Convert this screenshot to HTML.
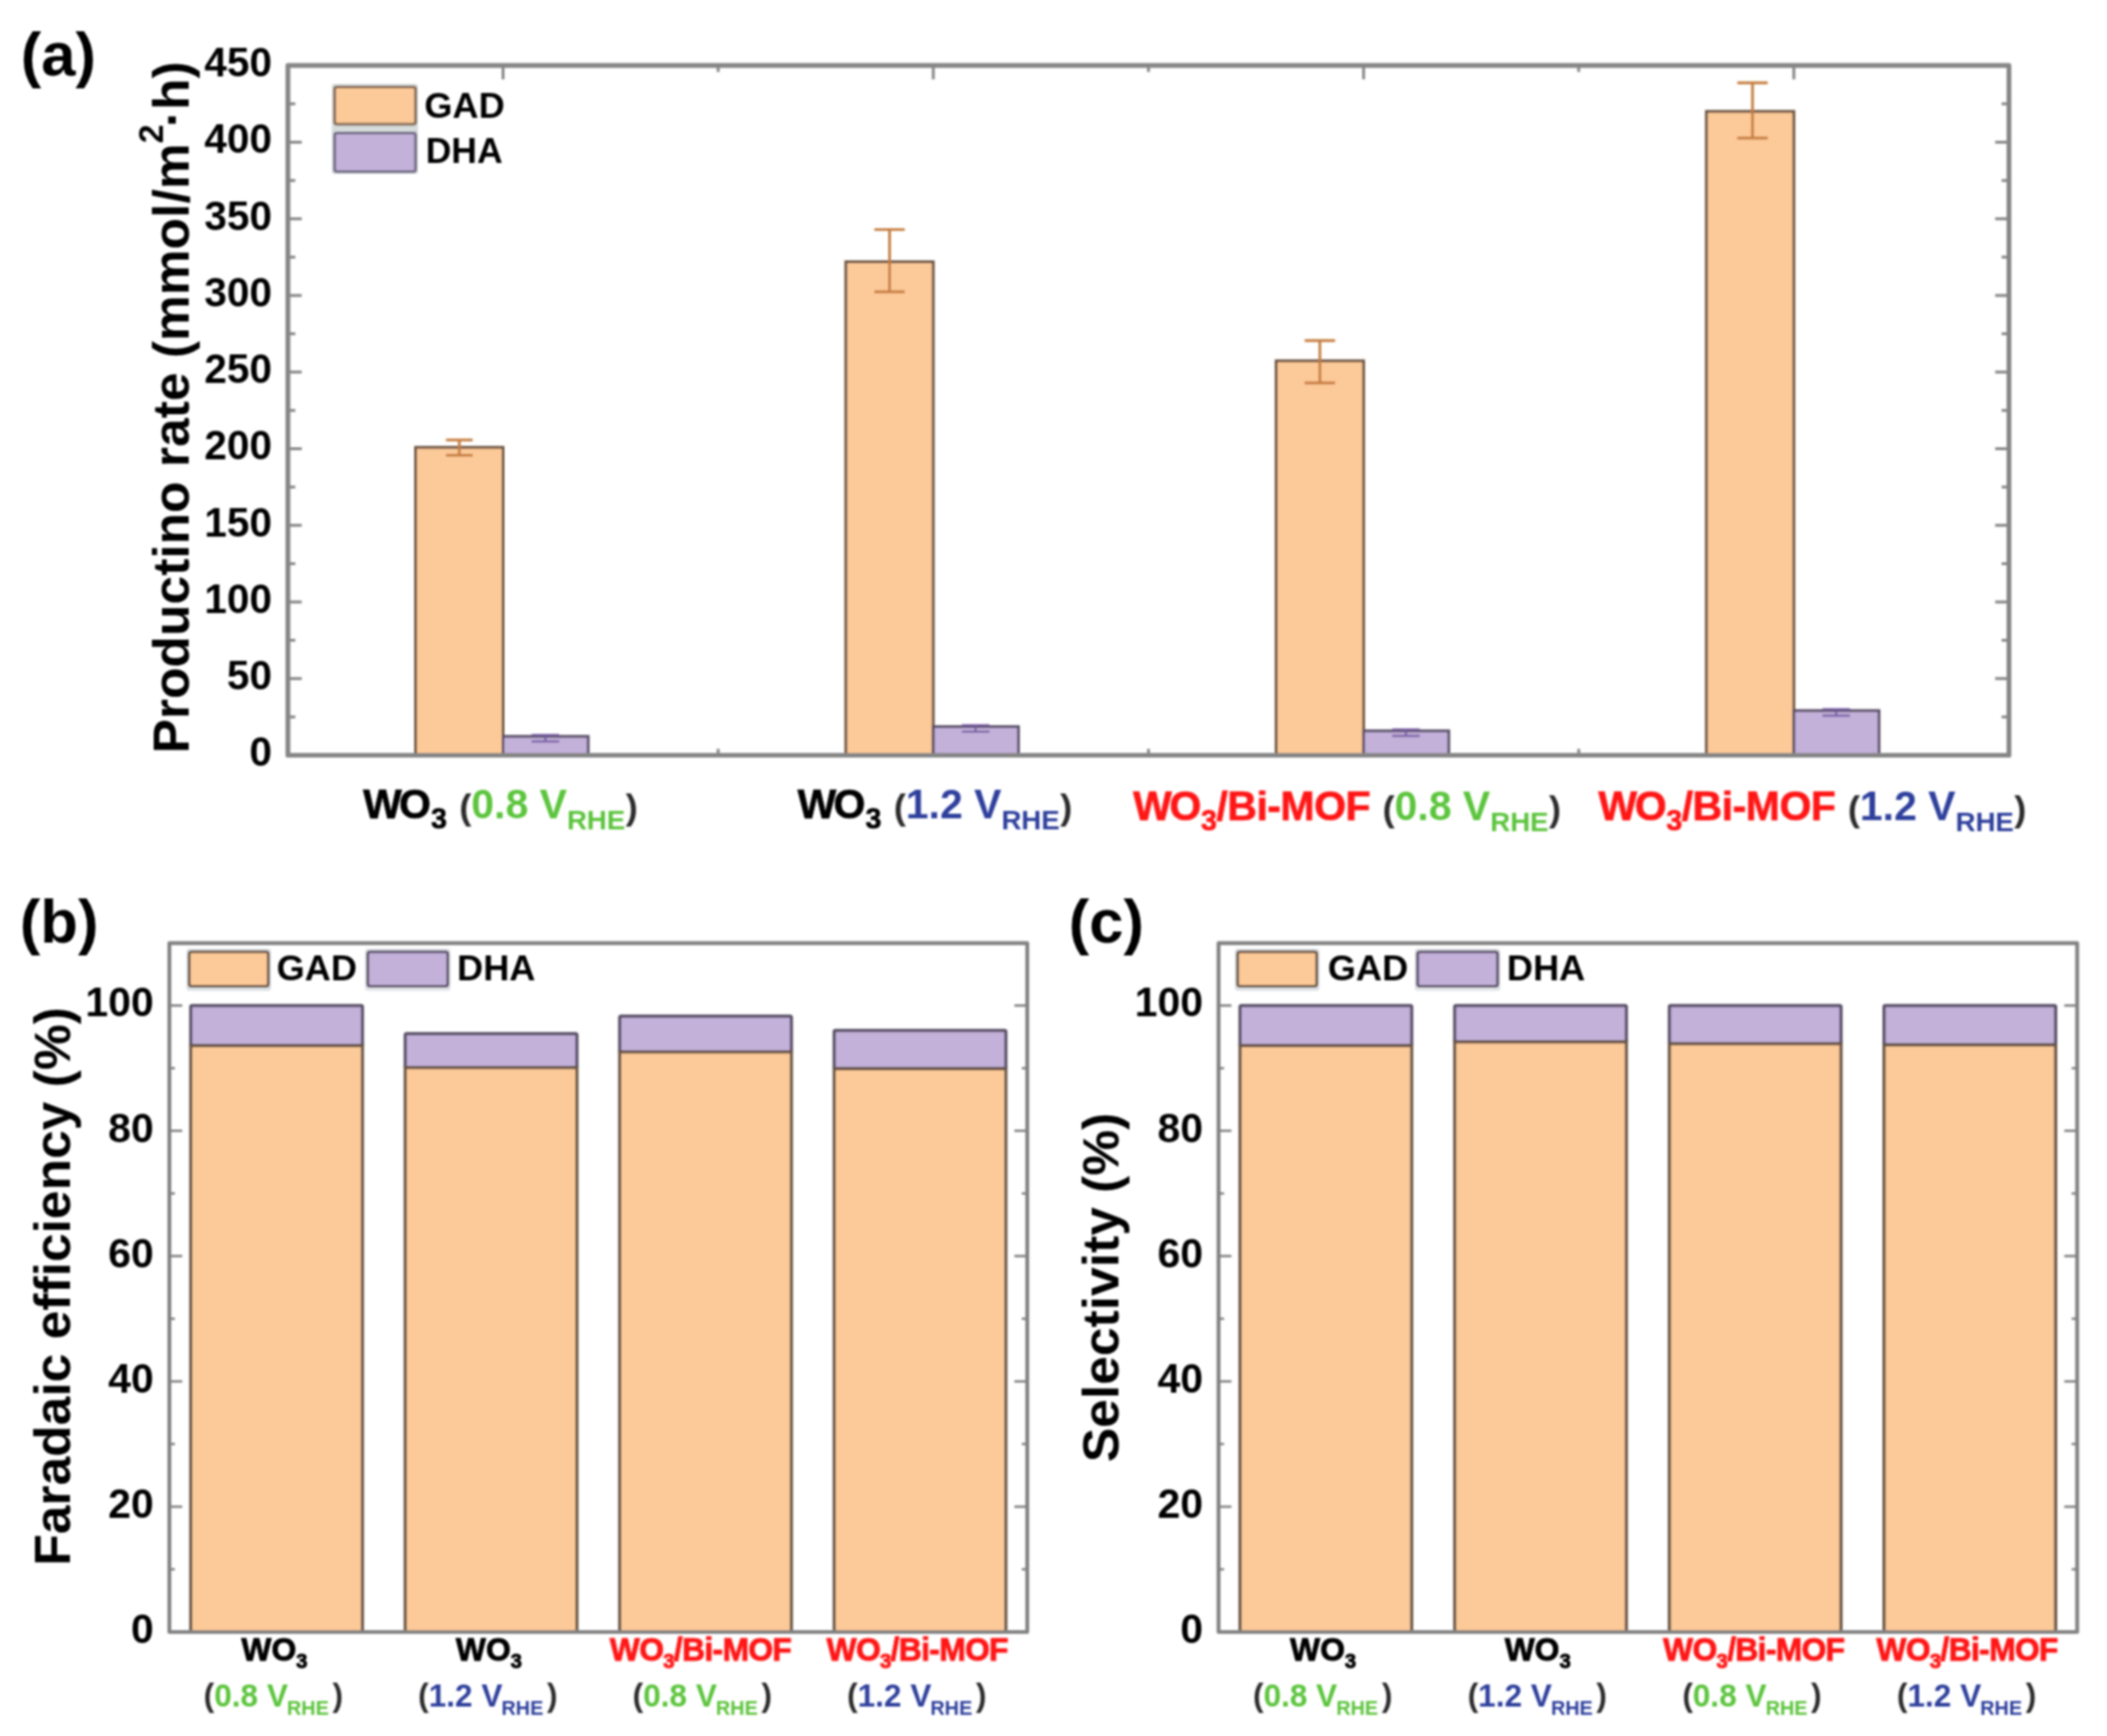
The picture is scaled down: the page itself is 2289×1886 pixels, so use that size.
<!DOCTYPE html>
<html lang="en"><head><meta charset="utf-8"><title>Figure</title>
<style>html,body{margin:0;padding:0;background:#fff}body{width:2289px;height:1886px;overflow:hidden}svg{display:block}text{font-family:"Liberation Sans",sans-serif;font-weight:bold}</style>
</head><body>
<svg width="2289" height="1886" viewBox="0 0 2289 1886">
<defs><filter id="bl" x="-2%" y="-2%" width="104%" height="104%"><feGaussianBlur stdDeviation="1.2"/></filter></defs>
<rect width="2289" height="1886" fill="#fff"/>
<g filter="url(#bl)">
<g id="panel-a">
<line x1="312.8" y1="820.5" x2="327.8" y2="820.5" stroke="#868686" stroke-width="3.1"/>
<line x1="2182.5" y1="820.5" x2="2167.5" y2="820.5" stroke="#868686" stroke-width="3.1"/>
<line x1="312.8" y1="778.9" x2="320.8" y2="778.9" stroke="#868686" stroke-width="3.1"/>
<line x1="2182.5" y1="778.9" x2="2174.5" y2="778.9" stroke="#868686" stroke-width="3.1"/>
<line x1="312.8" y1="737.2" x2="327.8" y2="737.2" stroke="#868686" stroke-width="3.1"/>
<line x1="2182.5" y1="737.2" x2="2167.5" y2="737.2" stroke="#868686" stroke-width="3.1"/>
<line x1="312.8" y1="695.6" x2="320.8" y2="695.6" stroke="#868686" stroke-width="3.1"/>
<line x1="2182.5" y1="695.6" x2="2174.5" y2="695.6" stroke="#868686" stroke-width="3.1"/>
<line x1="312.8" y1="654.0" x2="327.8" y2="654.0" stroke="#868686" stroke-width="3.1"/>
<line x1="2182.5" y1="654.0" x2="2167.5" y2="654.0" stroke="#868686" stroke-width="3.1"/>
<line x1="312.8" y1="612.4" x2="320.8" y2="612.4" stroke="#868686" stroke-width="3.1"/>
<line x1="2182.5" y1="612.4" x2="2174.5" y2="612.4" stroke="#868686" stroke-width="3.1"/>
<line x1="312.8" y1="570.7" x2="327.8" y2="570.7" stroke="#868686" stroke-width="3.1"/>
<line x1="2182.5" y1="570.7" x2="2167.5" y2="570.7" stroke="#868686" stroke-width="3.1"/>
<line x1="312.8" y1="529.1" x2="320.8" y2="529.1" stroke="#868686" stroke-width="3.1"/>
<line x1="2182.5" y1="529.1" x2="2174.5" y2="529.1" stroke="#868686" stroke-width="3.1"/>
<line x1="312.8" y1="487.5" x2="327.8" y2="487.5" stroke="#868686" stroke-width="3.1"/>
<line x1="2182.5" y1="487.5" x2="2167.5" y2="487.5" stroke="#868686" stroke-width="3.1"/>
<line x1="312.8" y1="445.9" x2="320.8" y2="445.9" stroke="#868686" stroke-width="3.1"/>
<line x1="2182.5" y1="445.9" x2="2174.5" y2="445.9" stroke="#868686" stroke-width="3.1"/>
<line x1="312.8" y1="404.2" x2="327.8" y2="404.2" stroke="#868686" stroke-width="3.1"/>
<line x1="2182.5" y1="404.2" x2="2167.5" y2="404.2" stroke="#868686" stroke-width="3.1"/>
<line x1="312.8" y1="362.6" x2="320.8" y2="362.6" stroke="#868686" stroke-width="3.1"/>
<line x1="2182.5" y1="362.6" x2="2174.5" y2="362.6" stroke="#868686" stroke-width="3.1"/>
<line x1="312.8" y1="321.0" x2="327.8" y2="321.0" stroke="#868686" stroke-width="3.1"/>
<line x1="2182.5" y1="321.0" x2="2167.5" y2="321.0" stroke="#868686" stroke-width="3.1"/>
<line x1="312.8" y1="279.3" x2="320.8" y2="279.3" stroke="#868686" stroke-width="3.1"/>
<line x1="2182.5" y1="279.3" x2="2174.5" y2="279.3" stroke="#868686" stroke-width="3.1"/>
<line x1="312.8" y1="237.7" x2="327.8" y2="237.7" stroke="#868686" stroke-width="3.1"/>
<line x1="2182.5" y1="237.7" x2="2167.5" y2="237.7" stroke="#868686" stroke-width="3.1"/>
<line x1="312.8" y1="196.1" x2="320.8" y2="196.1" stroke="#868686" stroke-width="3.1"/>
<line x1="2182.5" y1="196.1" x2="2174.5" y2="196.1" stroke="#868686" stroke-width="3.1"/>
<line x1="312.8" y1="154.5" x2="327.8" y2="154.5" stroke="#868686" stroke-width="3.1"/>
<line x1="2182.5" y1="154.5" x2="2167.5" y2="154.5" stroke="#868686" stroke-width="3.1"/>
<line x1="312.8" y1="112.8" x2="320.8" y2="112.8" stroke="#868686" stroke-width="3.1"/>
<line x1="2182.5" y1="112.8" x2="2174.5" y2="112.8" stroke="#868686" stroke-width="3.1"/>
<line x1="312.8" y1="71.2" x2="327.8" y2="71.2" stroke="#868686" stroke-width="3.1"/>
<line x1="2182.5" y1="71.2" x2="2167.5" y2="71.2" stroke="#868686" stroke-width="3.1"/>
<line x1="546.5" y1="71.2" x2="546.5" y2="86.2" stroke="#868686" stroke-width="3.1"/>
<line x1="546.5" y1="820.5" x2="546.5" y2="805.5" stroke="#868686" stroke-width="3.1"/>
<line x1="1013.9" y1="71.2" x2="1013.9" y2="86.2" stroke="#868686" stroke-width="3.1"/>
<line x1="1013.9" y1="820.5" x2="1013.9" y2="805.5" stroke="#868686" stroke-width="3.1"/>
<line x1="1481.4" y1="71.2" x2="1481.4" y2="86.2" stroke="#868686" stroke-width="3.1"/>
<line x1="1481.4" y1="820.5" x2="1481.4" y2="805.5" stroke="#868686" stroke-width="3.1"/>
<line x1="1948.8" y1="71.2" x2="1948.8" y2="86.2" stroke="#868686" stroke-width="3.1"/>
<line x1="1948.8" y1="820.5" x2="1948.8" y2="805.5" stroke="#868686" stroke-width="3.1"/>
<line x1="780.2" y1="71.2" x2="780.2" y2="78.2" stroke="#868686" stroke-width="3.1"/>
<line x1="780.2" y1="820.5" x2="780.2" y2="813.5" stroke="#868686" stroke-width="3.1"/>
<line x1="1247.7" y1="71.2" x2="1247.7" y2="78.2" stroke="#868686" stroke-width="3.1"/>
<line x1="1247.7" y1="820.5" x2="1247.7" y2="813.5" stroke="#868686" stroke-width="3.1"/>
<line x1="1715.1" y1="71.2" x2="1715.1" y2="78.2" stroke="#868686" stroke-width="3.1"/>
<line x1="1715.1" y1="820.5" x2="1715.1" y2="813.5" stroke="#868686" stroke-width="3.1"/>
<rect x="451.5" y="486.0" width="95.0" height="334.5" fill="#fcc998" stroke="#6c5242" stroke-width="3.0"/>
<rect x="546.5" y="800.0" width="92.5" height="20.5" fill="#c3b1d9" stroke="#5a5068" stroke-width="3.0"/>
<line x1="499.0" y1="478.0" x2="499.0" y2="494.6" stroke="#c57c3e" stroke-width="2.9"/>
<line x1="484.5" y1="478.0" x2="513.5" y2="478.0" stroke="#c57c3e" stroke-width="2.9"/>
<line x1="484.5" y1="494.6" x2="513.5" y2="494.6" stroke="#c57c3e" stroke-width="2.9"/>
<line x1="592.5" y1="798.5" x2="592.5" y2="805.5" stroke="#7458a0" stroke-width="2.2"/>
<line x1="577.5" y1="798.5" x2="607.5" y2="798.5" stroke="#7458a0" stroke-width="2.2"/>
<line x1="577.5" y1="805.5" x2="607.5" y2="805.5" stroke="#7458a0" stroke-width="2.2"/>
<rect x="918.9" y="284.4" width="95.0" height="536.1" fill="#fcc998" stroke="#6c5242" stroke-width="3.0"/>
<rect x="1013.9" y="789.4" width="92.5" height="31.1" fill="#c3b1d9" stroke="#5a5068" stroke-width="3.0"/>
<line x1="966.4" y1="249.4" x2="966.4" y2="317.0" stroke="#c57c3e" stroke-width="2.9"/>
<line x1="949.9" y1="249.4" x2="982.9" y2="249.4" stroke="#c57c3e" stroke-width="2.9"/>
<line x1="949.9" y1="317.0" x2="982.9" y2="317.0" stroke="#c57c3e" stroke-width="2.9"/>
<line x1="1059.9" y1="787.9" x2="1059.9" y2="794.9" stroke="#7458a0" stroke-width="2.2"/>
<line x1="1044.9" y1="787.9" x2="1074.9" y2="787.9" stroke="#7458a0" stroke-width="2.2"/>
<line x1="1044.9" y1="794.9" x2="1074.9" y2="794.9" stroke="#7458a0" stroke-width="2.2"/>
<rect x="1386.4" y="392.0" width="95.0" height="428.5" fill="#fcc998" stroke="#6c5242" stroke-width="3.0"/>
<rect x="1481.4" y="794.0" width="92.5" height="26.5" fill="#c3b1d9" stroke="#5a5068" stroke-width="3.0"/>
<line x1="1433.9" y1="370.0" x2="1433.9" y2="416.0" stroke="#c57c3e" stroke-width="2.9"/>
<line x1="1417.4" y1="370.0" x2="1450.4" y2="370.0" stroke="#c57c3e" stroke-width="2.9"/>
<line x1="1417.4" y1="416.0" x2="1450.4" y2="416.0" stroke="#c57c3e" stroke-width="2.9"/>
<line x1="1527.4" y1="792.5" x2="1527.4" y2="799.5" stroke="#7458a0" stroke-width="2.2"/>
<line x1="1512.4" y1="792.5" x2="1542.4" y2="792.5" stroke="#7458a0" stroke-width="2.2"/>
<line x1="1512.4" y1="799.5" x2="1542.4" y2="799.5" stroke="#7458a0" stroke-width="2.2"/>
<rect x="1853.8" y="121.0" width="95.0" height="699.5" fill="#fcc998" stroke="#6c5242" stroke-width="3.0"/>
<rect x="1948.8" y="772.0" width="92.5" height="48.5" fill="#c3b1d9" stroke="#5a5068" stroke-width="3.0"/>
<line x1="1903.9" y1="90.0" x2="1903.9" y2="150.0" stroke="#c57c3e" stroke-width="2.9"/>
<line x1="1887.4" y1="90.0" x2="1920.4" y2="90.0" stroke="#c57c3e" stroke-width="2.9"/>
<line x1="1887.4" y1="150.0" x2="1920.4" y2="150.0" stroke="#c57c3e" stroke-width="2.9"/>
<line x1="1994.8" y1="770.5" x2="1994.8" y2="777.5" stroke="#7458a0" stroke-width="2.2"/>
<line x1="1979.8" y1="770.5" x2="2009.8" y2="770.5" stroke="#7458a0" stroke-width="2.2"/>
<line x1="1979.8" y1="777.5" x2="2009.8" y2="777.5" stroke="#7458a0" stroke-width="2.2"/>
<rect x="312.8" y="71.2" width="1869.7" height="749.3" fill="none" stroke="#868686" stroke-width="5.2" stroke-linejoin="round"/>
<rect x="360.5" y="91.0" width="93.5" height="98.0" fill="#d6dcdc" stroke="none" stroke-width="0.0" rx="3.0"/>
<rect x="363.5" y="94.5" width="88.0" height="40.5" fill="#fcc998" stroke="#866c56" stroke-width="3.2" rx="2.5"/>
<rect x="363.5" y="144.5" width="88.0" height="42.0" fill="#c3b1d9" stroke="#746a88" stroke-width="3.2" rx="2.5"/>
<text x="461" y="128" font-size="39.3">GAD</text>
<text x="462.5" y="177" font-size="38.6">DHA</text>
<text x="295.5" y="832.3" font-size="44" text-anchor="end">0</text>
<text x="295.5" y="749.0" font-size="44" text-anchor="end">50</text>
<text x="295.5" y="665.8" font-size="44" text-anchor="end">100</text>
<text x="295.5" y="582.5" font-size="44" text-anchor="end">150</text>
<text x="295.5" y="499.3" font-size="44" text-anchor="end">200</text>
<text x="295.5" y="416.0" font-size="44" text-anchor="end">250</text>
<text x="295.5" y="332.8" font-size="44" text-anchor="end">300</text>
<text x="295.5" y="249.5" font-size="44" text-anchor="end">350</text>
<text x="295.5" y="166.3" font-size="44" text-anchor="end">400</text>
<text x="295.5" y="83.0" font-size="44" text-anchor="end">450</text>
<text transform="translate(205.3,818.5) rotate(-90)" font-size="56">Productino rate (mmol/m<tspan font-size="37" dy="-28">2</tspan><tspan dy="28" dx="-3">·h)</tspan></text>
<text x="22.5" y="81.5" font-size="67">(a)</text>
<text x="394.5" y="888.5" font-size="44.5"><tspan fill="#000" stroke="#000" stroke-width="0.7"><tspan letter-spacing="-3">W</tspan>O<tspan font-size="31" dy="11">3</tspan></tspan><tspan fill="#2a2a2a" font-size="39.5" dy="-10" dx="13.5">(</tspan><tspan fill="#5cc43c" dy="-1">0.8 V<tspan font-size="30" dy="12">RHE</tspan></tspan><tspan fill="#2a2a2a" font-size="39.5" dy="-11" dx="0.5">)</tspan></text>
<text x="866.5" y="888.5" font-size="44.5"><tspan fill="#000" stroke="#000" stroke-width="0.7"><tspan letter-spacing="-3">W</tspan>O<tspan font-size="31" dy="11">3</tspan></tspan><tspan fill="#2a2a2a" font-size="39.5" dy="-10" dx="13.5">(</tspan><tspan fill="#2f3f9c" dy="-1">1.2 V<tspan font-size="30" dy="12">RHE</tspan></tspan><tspan fill="#2a2a2a" font-size="39.5" dy="-11" dx="0.5">)</tspan></text>
<text x="1231.0" y="891.0" font-size="44.5"><tspan fill="#ff1414" stroke="#ff1414" stroke-width="0.7" letter-spacing="-0.5"><tspan letter-spacing="-2.5">W</tspan>O<tspan font-size="31" dy="11">3</tspan><tspan dy="-11">/Bi-MOF</tspan></tspan><tspan fill="#2a2a2a" font-size="39.5" dy="1" dx="13.5">(</tspan><tspan fill="#5cc43c" dy="-1">0.8 V<tspan font-size="30" dy="12">RHE</tspan></tspan><tspan fill="#2a2a2a" font-size="39.5" dy="-11" dx="0.5">)</tspan></text>
<text x="1736.5" y="891.0" font-size="44.5"><tspan fill="#ff1414" stroke="#ff1414" stroke-width="0.7" letter-spacing="-0.5"><tspan letter-spacing="-2.5">W</tspan>O<tspan font-size="31" dy="11">3</tspan><tspan dy="-11">/Bi-MOF</tspan></tspan><tspan fill="#2a2a2a" font-size="39.5" dy="1" dx="13.5">(</tspan><tspan fill="#2f3f9c" dy="-1">1.2 V<tspan font-size="30" dy="12">RHE</tspan></tspan><tspan fill="#2a2a2a" font-size="39.5" dy="-11" dx="0.5">)</tspan></text>
</g>
<g id="panel-b">
<line x1="184.0" y1="1773.0" x2="198.0" y2="1773.0" stroke="#828282" stroke-width="2.6"/>
<line x1="1116.0" y1="1773.0" x2="1102.0" y2="1773.0" stroke="#828282" stroke-width="2.6"/>
<line x1="184.0" y1="1704.9" x2="190.0" y2="1704.9" stroke="#828282" stroke-width="2.6"/>
<line x1="1116.0" y1="1704.9" x2="1110.0" y2="1704.9" stroke="#828282" stroke-width="2.6"/>
<line x1="184.0" y1="1636.9" x2="198.0" y2="1636.9" stroke="#828282" stroke-width="2.6"/>
<line x1="1116.0" y1="1636.9" x2="1102.0" y2="1636.9" stroke="#828282" stroke-width="2.6"/>
<line x1="184.0" y1="1568.8" x2="190.0" y2="1568.8" stroke="#828282" stroke-width="2.6"/>
<line x1="1116.0" y1="1568.8" x2="1110.0" y2="1568.8" stroke="#828282" stroke-width="2.6"/>
<line x1="184.0" y1="1500.8" x2="198.0" y2="1500.8" stroke="#828282" stroke-width="2.6"/>
<line x1="1116.0" y1="1500.8" x2="1102.0" y2="1500.8" stroke="#828282" stroke-width="2.6"/>
<line x1="184.0" y1="1432.7" x2="190.0" y2="1432.7" stroke="#828282" stroke-width="2.6"/>
<line x1="1116.0" y1="1432.7" x2="1110.0" y2="1432.7" stroke="#828282" stroke-width="2.6"/>
<line x1="184.0" y1="1364.6" x2="198.0" y2="1364.6" stroke="#828282" stroke-width="2.6"/>
<line x1="1116.0" y1="1364.6" x2="1102.0" y2="1364.6" stroke="#828282" stroke-width="2.6"/>
<line x1="184.0" y1="1296.6" x2="190.0" y2="1296.6" stroke="#828282" stroke-width="2.6"/>
<line x1="1116.0" y1="1296.6" x2="1110.0" y2="1296.6" stroke="#828282" stroke-width="2.6"/>
<line x1="184.0" y1="1228.5" x2="198.0" y2="1228.5" stroke="#828282" stroke-width="2.6"/>
<line x1="1116.0" y1="1228.5" x2="1102.0" y2="1228.5" stroke="#828282" stroke-width="2.6"/>
<line x1="184.0" y1="1160.5" x2="190.0" y2="1160.5" stroke="#828282" stroke-width="2.6"/>
<line x1="1116.0" y1="1160.5" x2="1110.0" y2="1160.5" stroke="#828282" stroke-width="2.6"/>
<line x1="184.0" y1="1092.4" x2="198.0" y2="1092.4" stroke="#828282" stroke-width="2.6"/>
<line x1="1116.0" y1="1092.4" x2="1102.0" y2="1092.4" stroke="#828282" stroke-width="2.6"/>
<rect x="207.3" y="1092.4" width="186.4" height="43.6" fill="#c3b1d9" stroke="#5a5168" stroke-width="3.5" rx="1.5"/>
<rect x="207.3" y="1136.0" width="186.4" height="637.0" fill="#fcc998" stroke="#685446" stroke-width="3.4"/>
<rect x="440.3" y="1123.0" width="186.4" height="36.8" fill="#c3b1d9" stroke="#5a5168" stroke-width="3.5" rx="1.5"/>
<rect x="440.3" y="1159.8" width="186.4" height="613.2" fill="#fcc998" stroke="#685446" stroke-width="3.4"/>
<rect x="673.3" y="1104.0" width="186.4" height="38.8" fill="#c3b1d9" stroke="#5a5168" stroke-width="3.5" rx="1.5"/>
<rect x="673.3" y="1142.8" width="186.4" height="630.2" fill="#fcc998" stroke="#685446" stroke-width="3.4"/>
<rect x="906.3" y="1119.6" width="186.4" height="41.5" fill="#c3b1d9" stroke="#5a5168" stroke-width="3.5" rx="1.5"/>
<rect x="906.3" y="1161.1" width="186.4" height="611.9" fill="#fcc998" stroke="#685446" stroke-width="3.4"/>
<rect x="184.0" y="1024.6" width="932.0" height="748.4" fill="none" stroke="#828282" stroke-width="4.2" stroke-linejoin="round"/>
<rect x="202.5" y="1030.5" width="92.0" height="46.0" fill="#dde2e6" stroke="none" stroke-width="0.0" rx="3.0"/>
<rect x="396.5" y="1030.5" width="93.0" height="46.0" fill="#e2e4e8" stroke="none" stroke-width="0.0" rx="3.0"/>
<rect x="205.5" y="1034.0" width="86.0" height="37.5" fill="#fcc998" stroke="#705a48" stroke-width="3.2" rx="2.5"/>
<rect x="399.5" y="1034.0" width="87.0" height="37.5" fill="#c3b1d9" stroke="#5e5470" stroke-width="3.2" rx="2.5"/>
<text x="300.5" y="1065.3" font-size="39.3">GAD</text>
<text x="496.5" y="1065.3" font-size="39.3">DHA</text>
<text x="167.0" y="1785.0" font-size="44.5" text-anchor="end">0</text>
<text x="167.0" y="1648.9" font-size="44.5" text-anchor="end">20</text>
<text x="167.0" y="1512.8" font-size="44.5" text-anchor="end">40</text>
<text x="167.0" y="1376.6" font-size="44.5" text-anchor="end">60</text>
<text x="167.0" y="1240.5" font-size="44.5" text-anchor="end">80</text>
<text x="167.0" y="1104.4" font-size="44.5" text-anchor="end">100</text>
<text transform="translate(75.5,1701.0) rotate(-90)" font-size="56">Faradaic efficiency (%)</text>
<text x="21.5" y="1023.5" font-size="67">(b)</text>
<text x="298.2" y="1804" font-size="34.5" text-anchor="middle" fill="#000" stroke="#000" stroke-width="0.9">WO<tspan font-size="22" dy="8">3</tspan></text>
<text x="297.0" y="1854" font-size="34.3" text-anchor="middle"><tspan fill="#2a2a2a">(</tspan><tspan fill="#5cc43c">0.8 V<tspan font-size="21.5" dy="9" dx="-1">RHE</tspan></tspan><tspan fill="#2a2a2a" dy="-9" dx="4">)</tspan></text>
<text x="531.2" y="1804" font-size="34.5" text-anchor="middle" fill="#000" stroke="#000" stroke-width="0.9">WO<tspan font-size="22" dy="8">3</tspan></text>
<text x="530.0" y="1854" font-size="34.3" text-anchor="middle"><tspan fill="#2a2a2a">(</tspan><tspan fill="#2f3f9c">1.2 V<tspan font-size="21.5" dy="9" dx="-1">RHE</tspan></tspan><tspan fill="#2a2a2a" dy="-9" dx="4">)</tspan></text>
<text x="761.0" y="1804" font-size="34.5" text-anchor="middle" fill="#ff1414" letter-spacing="-0.7" stroke="#ff1414" stroke-width="0.9">WO<tspan font-size="22" dy="8">3</tspan><tspan dy="-8">/Bi-MOF</tspan></text>
<text x="763.0" y="1854" font-size="34.3" text-anchor="middle"><tspan fill="#2a2a2a">(</tspan><tspan fill="#5cc43c">0.8 V<tspan font-size="21.5" dy="9" dx="-1">RHE</tspan></tspan><tspan fill="#2a2a2a" dy="-9" dx="4">)</tspan></text>
<text x="996.5" y="1804" font-size="34.5" text-anchor="middle" fill="#ff1414" letter-spacing="-0.7" stroke="#ff1414" stroke-width="0.9">WO<tspan font-size="22" dy="8">3</tspan><tspan dy="-8">/Bi-MOF</tspan></text>
<text x="996.0" y="1854" font-size="34.3" text-anchor="middle"><tspan fill="#2a2a2a">(</tspan><tspan fill="#2f3f9c">1.2 V<tspan font-size="21.5" dy="9" dx="-1">RHE</tspan></tspan><tspan fill="#2a2a2a" dy="-9" dx="4">)</tspan></text>
</g>
<g id="panel-c">
<line x1="1323.8" y1="1773.0" x2="1337.8" y2="1773.0" stroke="#828282" stroke-width="2.6"/>
<line x1="2256.6" y1="1773.0" x2="2242.6" y2="1773.0" stroke="#828282" stroke-width="2.6"/>
<line x1="1323.8" y1="1704.9" x2="1329.8" y2="1704.9" stroke="#828282" stroke-width="2.6"/>
<line x1="2256.6" y1="1704.9" x2="2250.6" y2="1704.9" stroke="#828282" stroke-width="2.6"/>
<line x1="1323.8" y1="1636.9" x2="1337.8" y2="1636.9" stroke="#828282" stroke-width="2.6"/>
<line x1="2256.6" y1="1636.9" x2="2242.6" y2="1636.9" stroke="#828282" stroke-width="2.6"/>
<line x1="1323.8" y1="1568.8" x2="1329.8" y2="1568.8" stroke="#828282" stroke-width="2.6"/>
<line x1="2256.6" y1="1568.8" x2="2250.6" y2="1568.8" stroke="#828282" stroke-width="2.6"/>
<line x1="1323.8" y1="1500.8" x2="1337.8" y2="1500.8" stroke="#828282" stroke-width="2.6"/>
<line x1="2256.6" y1="1500.8" x2="2242.6" y2="1500.8" stroke="#828282" stroke-width="2.6"/>
<line x1="1323.8" y1="1432.7" x2="1329.8" y2="1432.7" stroke="#828282" stroke-width="2.6"/>
<line x1="2256.6" y1="1432.7" x2="2250.6" y2="1432.7" stroke="#828282" stroke-width="2.6"/>
<line x1="1323.8" y1="1364.6" x2="1337.8" y2="1364.6" stroke="#828282" stroke-width="2.6"/>
<line x1="2256.6" y1="1364.6" x2="2242.6" y2="1364.6" stroke="#828282" stroke-width="2.6"/>
<line x1="1323.8" y1="1296.6" x2="1329.8" y2="1296.6" stroke="#828282" stroke-width="2.6"/>
<line x1="2256.6" y1="1296.6" x2="2250.6" y2="1296.6" stroke="#828282" stroke-width="2.6"/>
<line x1="1323.8" y1="1228.5" x2="1337.8" y2="1228.5" stroke="#828282" stroke-width="2.6"/>
<line x1="2256.6" y1="1228.5" x2="2242.6" y2="1228.5" stroke="#828282" stroke-width="2.6"/>
<line x1="1323.8" y1="1160.5" x2="1329.8" y2="1160.5" stroke="#828282" stroke-width="2.6"/>
<line x1="2256.6" y1="1160.5" x2="2250.6" y2="1160.5" stroke="#828282" stroke-width="2.6"/>
<line x1="1323.8" y1="1092.4" x2="1337.8" y2="1092.4" stroke="#828282" stroke-width="2.6"/>
<line x1="2256.6" y1="1092.4" x2="2242.6" y2="1092.4" stroke="#828282" stroke-width="2.6"/>
<rect x="1347.2" y="1092.4" width="186.4" height="43.6" fill="#c3b1d9" stroke="#5a5168" stroke-width="3.5" rx="1.5"/>
<rect x="1347.2" y="1136.0" width="186.4" height="637.0" fill="#fcc998" stroke="#685446" stroke-width="3.4"/>
<rect x="1580.4" y="1092.4" width="186.4" height="39.5" fill="#c3b1d9" stroke="#5a5168" stroke-width="3.5" rx="1.5"/>
<rect x="1580.4" y="1131.9" width="186.4" height="641.1" fill="#fcc998" stroke="#685446" stroke-width="3.4"/>
<rect x="1813.6" y="1092.4" width="186.4" height="41.5" fill="#c3b1d9" stroke="#5a5168" stroke-width="3.5" rx="1.5"/>
<rect x="1813.6" y="1133.9" width="186.4" height="639.1" fill="#fcc998" stroke="#685446" stroke-width="3.4"/>
<rect x="2046.8" y="1092.4" width="186.4" height="42.9" fill="#c3b1d9" stroke="#5a5168" stroke-width="3.5" rx="1.5"/>
<rect x="2046.8" y="1135.3" width="186.4" height="637.7" fill="#fcc998" stroke="#685446" stroke-width="3.4"/>
<rect x="1323.8" y="1024.6" width="932.8" height="748.4" fill="none" stroke="#828282" stroke-width="4.2" stroke-linejoin="round"/>
<rect x="1341.5" y="1030.5" width="92.0" height="46.0" fill="#dde2e6" stroke="none" stroke-width="0.0" rx="3.0"/>
<rect x="1537.0" y="1030.5" width="93.0" height="46.0" fill="#e2e4e8" stroke="none" stroke-width="0.0" rx="3.0"/>
<rect x="1344.5" y="1034.0" width="86.0" height="37.5" fill="#fcc998" stroke="#705a48" stroke-width="3.2" rx="2.5"/>
<rect x="1540.0" y="1034.0" width="87.0" height="37.5" fill="#c3b1d9" stroke="#5e5470" stroke-width="3.2" rx="2.5"/>
<text x="1442.5" y="1065.3" font-size="39.3">GAD</text>
<text x="1637.0" y="1065.3" font-size="39.3">DHA</text>
<text x="1307.0" y="1785.0" font-size="44.5" text-anchor="end">0</text>
<text x="1307.0" y="1648.9" font-size="44.5" text-anchor="end">20</text>
<text x="1307.0" y="1512.8" font-size="44.5" text-anchor="end">40</text>
<text x="1307.0" y="1376.6" font-size="44.5" text-anchor="end">60</text>
<text x="1307.0" y="1240.5" font-size="44.5" text-anchor="end">80</text>
<text x="1307.0" y="1104.4" font-size="44.5" text-anchor="end">100</text>
<text transform="translate(1214.5,1588.5) rotate(-90)" font-size="56">Selectivity (%)</text>
<text x="1161.0" y="1023.5" font-size="67">(c)</text>
<text x="1437.4" y="1804" font-size="34.5" text-anchor="middle" fill="#000" stroke="#000" stroke-width="0.9">WO<tspan font-size="22" dy="8">3</tspan></text>
<text x="1436.9" y="1854" font-size="34.3" text-anchor="middle"><tspan fill="#2a2a2a">(</tspan><tspan fill="#5cc43c">0.8 V<tspan font-size="21.5" dy="9" dx="-1">RHE</tspan></tspan><tspan fill="#2a2a2a" dy="-9" dx="4">)</tspan></text>
<text x="1670.6" y="1804" font-size="34.5" text-anchor="middle" fill="#000" stroke="#000" stroke-width="0.9">WO<tspan font-size="22" dy="8">3</tspan></text>
<text x="1670.1" y="1854" font-size="34.3" text-anchor="middle"><tspan fill="#2a2a2a">(</tspan><tspan fill="#2f3f9c">1.2 V<tspan font-size="21.5" dy="9" dx="-1">RHE</tspan></tspan><tspan fill="#2a2a2a" dy="-9" dx="4">)</tspan></text>
<text x="1905.3" y="1804" font-size="34.5" text-anchor="middle" fill="#ff1414" letter-spacing="-0.7" stroke="#ff1414" stroke-width="0.9">WO<tspan font-size="22" dy="8">3</tspan><tspan dy="-8">/Bi-MOF</tspan></text>
<text x="1903.3" y="1854" font-size="34.3" text-anchor="middle"><tspan fill="#2a2a2a">(</tspan><tspan fill="#5cc43c">0.8 V<tspan font-size="21.5" dy="9" dx="-1">RHE</tspan></tspan><tspan fill="#2a2a2a" dy="-9" dx="4">)</tspan></text>
<text x="2137.0" y="1804" font-size="34.5" text-anchor="middle" fill="#ff1414" letter-spacing="-0.7" stroke="#ff1414" stroke-width="0.9">WO<tspan font-size="22" dy="8">3</tspan><tspan dy="-8">/Bi-MOF</tspan></text>
<text x="2136.5" y="1854" font-size="34.3" text-anchor="middle"><tspan fill="#2a2a2a">(</tspan><tspan fill="#2f3f9c">1.2 V<tspan font-size="21.5" dy="9" dx="-1">RHE</tspan></tspan><tspan fill="#2a2a2a" dy="-9" dx="4">)</tspan></text>
</g>
</g>
</svg></body></html>
